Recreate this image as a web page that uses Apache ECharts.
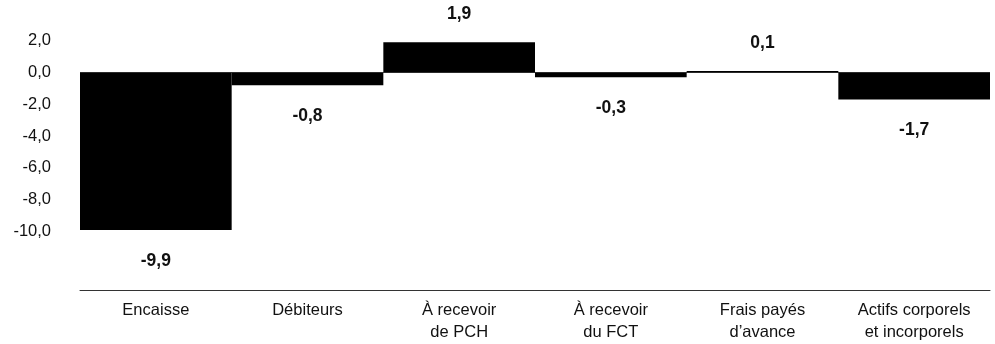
<!DOCTYPE html>
<html>
<head>
<meta charset="utf-8">
<script src="https://cdn.jsdelivr.net/npm/echarts@6/dist/echarts.min.js"></script>
<style>
  html, body { margin: 0; padding: 0; background: #fff; }
  #chart { width: 995px; height: 344px; }
</style>
</head>
<body>
<div id="chart"></div>
<script>
// Variation by balance-sheet item
const categories = [
  'Encaisse',
  'Débiteurs',
  'À recevoir\nde PCH',
  'À recevoir\ndu FCT',
  'Frais payés\nd’avance',
  'Actifs corporels\net incorporels'
];
const values = [-9.9, -0.8, 1.9, -0.3, 0.1, -1.7];

const yMin = -14;
const yMax = 2;
const yStep = 2;
const lowestLabel = -10;

const fmt = v => v.toFixed(1).replace('.', ',');
const font = '"Liberation Sans", Arial, Helvetica, sans-serif';

const chart = echarts.init(document.getElementById('chart'), null, { renderer: 'canvas' });
chart.setOption({
  animation: false,
  backgroundColor: '#ffffff',
  grid: { left: 80, right: 5, top: 40.7, height: 254.4, containLabel: false },
  xAxis: {
    type: 'category',
    data: categories,
    position: 'bottom',
    offset: -5,
    axisLine: { onZero: false, lineStyle: { color: '#333', width: 1 } },
    axisTick: { show: false },
    axisLabel: {
      color: '#111', fontFamily: font, fontSize: 16.5,
      lineHeight: 22, margin: 9, interval: 0
    },
    splitLine: { show: false }
  },
  yAxis: {
    type: 'value',
    min: yMin, max: yMax, interval: yStep,
    axisLine: { show: false },
    axisTick: { show: false },
    splitLine: { show: false },
    axisLabel: {
      color: '#111', fontFamily: font, fontSize: 16.5, margin: 29,
      formatter: v => (v < lowestLabel ? '' : fmt(v))
    }
  },
  series: [{
    type: 'bar',
    data: values.map(v => ({
      value: v,
      label: v >= 0
        ? { position: 'top', distance: 19 }
        : { position: 'bottom', distance: 22 }
    })),
    barCategoryGap: '0%',
    itemStyle: { color: '#000000' },
    label: {
      show: true,
      color: '#111',
      fontFamily: font,
      fontSize: 17.5,
      fontWeight: 'bold',
      formatter: p => fmt(p.value)
    },
    markLine: {
      silent: true,
      symbol: 'none',
      label: { show: false },
      lineStyle: { color: '#555', width: 1, type: 'solid' },
      data: [{ yAxis: 0 }],
      z: 1
    },
    z: 2
  }]
});
</script>
</body>
</html>
